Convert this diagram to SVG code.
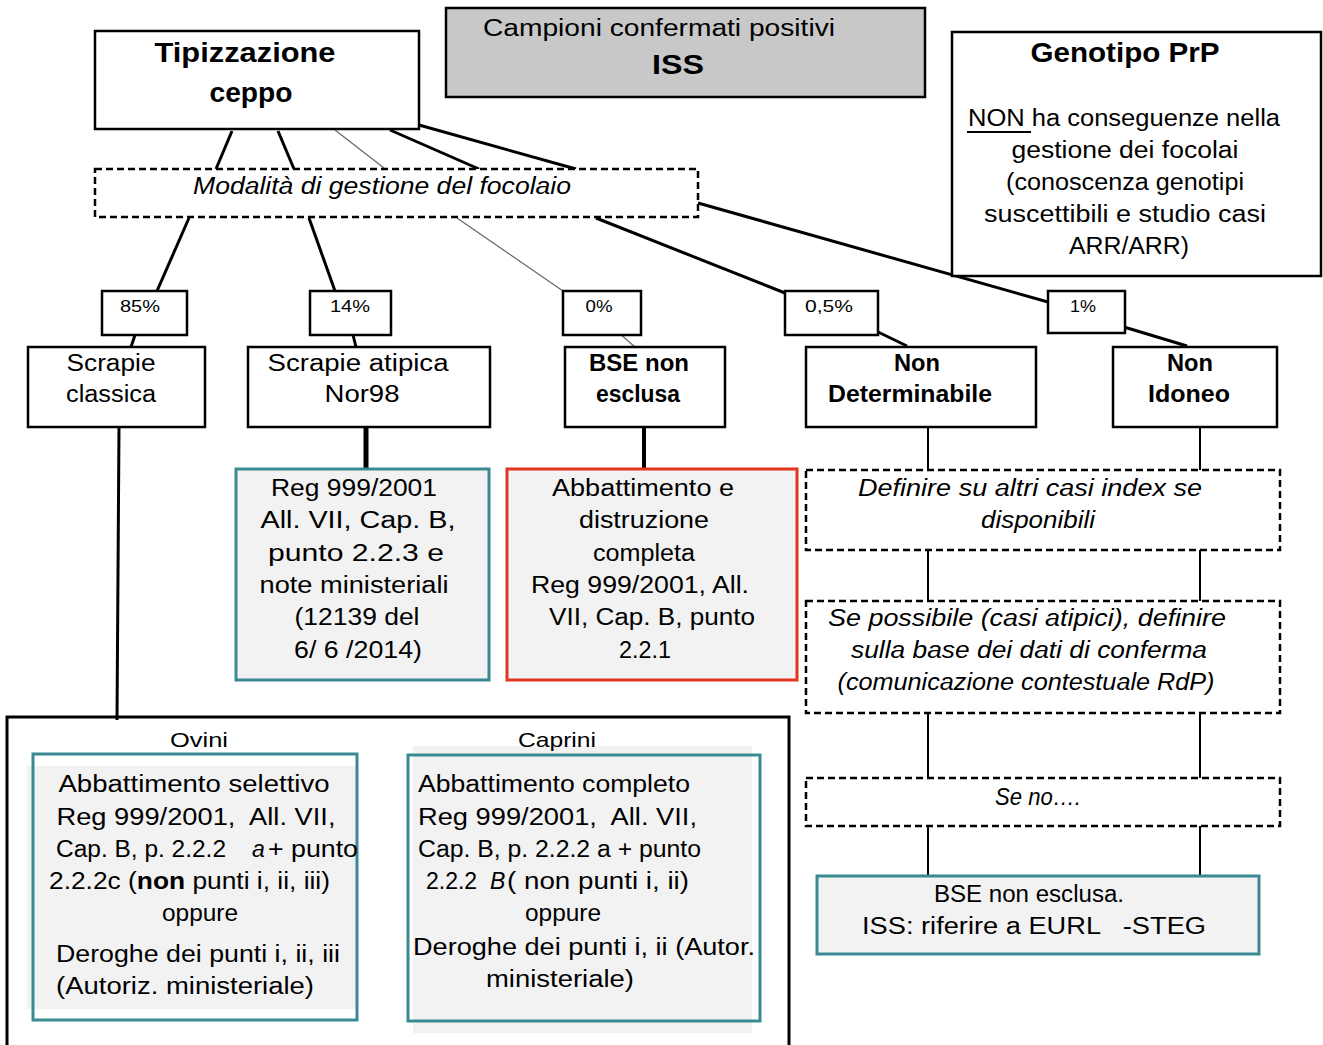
<svg xmlns="http://www.w3.org/2000/svg" width="1323" height="1045" viewBox="0 0 1323 1045">
<style>
text{font-family:"Liberation Sans","DejaVu Sans",sans-serif;fill:#000;text-anchor:middle}
.b{stroke:#000;stroke-width:2.5;fill:#fff}
.d{stroke:#000;stroke-width:2.5;fill:#fff;stroke-dasharray:7 4}
.t{stroke:#3a8a93;stroke-width:3;fill:#f2f2f2}
.c{stroke:#000;stroke-width:3;fill:none}
.th{stroke:#666;stroke-width:1.2;fill:none}
.v{stroke:#000;stroke-width:2;fill:none}
.f24{font-size:23px}
.f17{font-size:17px}
.it{font-style:italic}
.bd{font-weight:bold}
</style>
<rect width="1323" height="1045" fill="#fff"/>
<g id="connectors">
<line class="c" x1="232" y1="131" x2="216" y2="169"/>
<line class="c" x1="278" y1="131" x2="294" y2="169"/>
<line class="c" x1="390" y1="130" x2="479" y2="169"/>
<line class="c" x1="419" y1="125" x2="576" y2="169"/>
<line class="th" x1="335" y1="130" x2="384" y2="168"/>
<line class="c" x1="189" y1="218" x2="157" y2="291"/>
<line class="c" x1="309" y1="218" x2="335" y2="291"/>
<line class="th" x1="457" y1="218" x2="563" y2="291"/>
<line class="c" x1="596" y1="218" x2="785" y2="293"/>
<line class="c" x1="698" y1="203" x2="1048" y2="302"/>
<line class="c" x1="135" y1="335" x2="131" y2="347"/>
<line class="c" x1="353" y1="335" x2="356" y2="347"/>
<line class="th" x1="619" y1="333" x2="635" y2="347"/>
<line class="c" x1="878" y1="332" x2="907" y2="346"/>
<line class="c" x1="1124" y1="327" x2="1187" y2="346"/>
<line class="c" x1="119" y1="427" x2="117" y2="720"/>
<line stroke="#000" stroke-width="5" x1="366" y1="427" x2="366" y2="468"/>
<line stroke="#000" stroke-width="4" x1="644" y1="427" x2="644" y2="468"/>
<line class="v" x1="928" y1="427" x2="928" y2="470"/>
<line class="v" x1="1200" y1="427" x2="1200" y2="470"/>
<line class="v" x1="928" y1="550" x2="928" y2="601"/>
<line class="v" x1="1200" y1="550" x2="1200" y2="601"/>
<line class="v" x1="928" y1="713" x2="928" y2="778"/>
<line class="v" x1="1200" y1="713" x2="1200" y2="778"/>
<line class="v" x1="928" y1="826" x2="928" y2="876"/>
<line class="v" x1="1200" y1="826" x2="1200" y2="876"/>
</g>
<g id="tipizzazione">
<rect class="b" x="95" y="31" width="324" height="98"/>
<text x="245" y="62" font-size="28" class="bd" textLength="181" lengthAdjust="spacingAndGlyphs">Tipizzazione</text>
<text x="251" y="102" font-size="28" class="bd" textLength="83" lengthAdjust="spacingAndGlyphs">ceppo</text>
</g>
<g id="campioni">
<rect x="446" y="8" width="479" height="89" fill="#c8c8c8" stroke="#000" stroke-width="2.5"/>
<text x="659" y="36" class="f24" textLength="352" lengthAdjust="spacingAndGlyphs">Campioni confermati positivi</text>
<text x="678" y="74" font-size="27" class="bd" textLength="52" lengthAdjust="spacingAndGlyphs">ISS</text>
</g>
<g id="genotipo">
<rect class="b" x="952" y="32" width="369" height="244"/>
<text x="1125" y="62" font-size="28" class="bd" textLength="189" lengthAdjust="spacingAndGlyphs">Genotipo PrP</text>
<text x="1124" y="126" class="f24" textLength="312" lengthAdjust="spacingAndGlyphs">NON ha conseguenze nella</text>
<line x1="967" y1="132" x2="1031" y2="132" stroke="#000" stroke-width="2"/>
<text x="1125" y="158" class="f24" textLength="227" lengthAdjust="spacingAndGlyphs">gestione dei focolai</text>
<text x="1125" y="190" class="f24" textLength="238" lengthAdjust="spacingAndGlyphs">(conoscenza genotipi</text>
<text x="1125" y="222" class="f24" textLength="282" lengthAdjust="spacingAndGlyphs">suscettibili e studio casi</text>
<text x="1129" y="254" class="f24" textLength="120" lengthAdjust="spacingAndGlyphs">ARR/ARR)</text>
</g>
<g id="modalita">
<rect class="d" x="95" y="169" width="603" height="48"/>
<text x="382" y="194" class="f24 it" textLength="378" lengthAdjust="spacingAndGlyphs">Modalità di gestione del focolaio</text>
</g>
<g id="p85"><rect class="b" x="102" y="291" width="85" height="44"/><text x="140" y="312" class="f17" textLength="40" lengthAdjust="spacingAndGlyphs">85%</text></g>
<g id="p14"><rect class="b" x="310" y="291" width="81" height="44"/><text x="350" y="312" class="f17" textLength="40" lengthAdjust="spacingAndGlyphs">14%</text></g>
<g id="p0"><rect class="b" x="563" y="291" width="78" height="44"/><text x="599" y="312" class="f17" textLength="27" lengthAdjust="spacingAndGlyphs">0%</text></g>
<g id="p05"><rect class="b" x="785" y="291" width="93" height="44"/><text x="829" y="312" class="f17" textLength="48" lengthAdjust="spacingAndGlyphs">0,5%</text></g>
<g id="p1"><rect class="b" x="1048" y="291" width="77" height="42"/><text x="1083" y="312" class="f17" textLength="26" lengthAdjust="spacingAndGlyphs">1%</text></g>
<g id="scrapie-classica">
<rect class="b" x="28" y="347" width="177" height="80"/>
<text x="111" y="371" class="f24" textLength="89" lengthAdjust="spacingAndGlyphs">Scrapie</text>
<text x="111" y="402" class="f24" textLength="90" lengthAdjust="spacingAndGlyphs">classica</text>
</g>
<g id="scrapie-atipica">
<rect class="b" x="248" y="347" width="242" height="80"/>
<text x="358" y="371" class="f24" textLength="181" lengthAdjust="spacingAndGlyphs">Scrapie atipica</text>
<text x="362" y="402" class="f24" textLength="75" lengthAdjust="spacingAndGlyphs">Nor98</text>
</g>
<g id="bse">
<rect class="b" x="565" y="347" width="160" height="80"/>
<text x="639" y="371" class="f24 bd" textLength="100" lengthAdjust="spacingAndGlyphs">BSE non</text>
<text x="638" y="402" class="f24 bd" textLength="84" lengthAdjust="spacingAndGlyphs">esclusa</text>
</g>
<g id="non-determinabile">
<rect class="b" x="806" y="347" width="230" height="80"/>
<text x="917" y="371" class="f24 bd" textLength="46" lengthAdjust="spacingAndGlyphs">Non</text>
<text x="910" y="402" class="f24 bd" textLength="164" lengthAdjust="spacingAndGlyphs">Determinabile</text>
</g>
<g id="non-idoneo">
<rect class="b" x="1113" y="347" width="164" height="80"/>
<text x="1190" y="371" class="f24 bd" textLength="46" lengthAdjust="spacingAndGlyphs">Non</text>
<text x="1189" y="402" class="f24 bd" textLength="82" lengthAdjust="spacingAndGlyphs">Idoneo</text>
</g>
<g id="reg-nor98">
<rect class="t" x="236" y="469" width="253" height="211"/>
<text x="354" y="496" class="f24" textLength="166" lengthAdjust="spacingAndGlyphs">Reg 999/2001</text>
<text x="358" y="528" class="f24" textLength="195" lengthAdjust="spacingAndGlyphs">All. VII, Cap. B,</text>
<text x="356" y="561" class="f24" textLength="176" lengthAdjust="spacingAndGlyphs">punto 2.2.3 e</text>
<text x="354" y="593" class="f24" textLength="189" lengthAdjust="spacingAndGlyphs">note ministeriali</text>
<text x="357" y="625" class="f24" textLength="125" lengthAdjust="spacingAndGlyphs">(12139 del</text>
<text x="358" y="658" class="f24" textLength="128" lengthAdjust="spacingAndGlyphs">6/ 6 /2014)</text>
</g>
<g id="abbattimento-bse">
<rect x="507" y="469" width="290" height="211" fill="#f2f2f2" stroke="#e0351f" stroke-width="3"/>
<text x="643" y="496" class="f24" textLength="182" lengthAdjust="spacingAndGlyphs">Abbattimento e</text>
<text x="644" y="528" class="f24" textLength="130" lengthAdjust="spacingAndGlyphs">distruzione</text>
<text x="644" y="561" class="f24" textLength="102" lengthAdjust="spacingAndGlyphs">completa</text>
<text x="640" y="593" class="f24" textLength="218" lengthAdjust="spacingAndGlyphs">Reg 999/2001, All.</text>
<text x="652" y="625" class="f24" textLength="206" lengthAdjust="spacingAndGlyphs">VII, Cap. B, punto</text>
<text x="645" y="658" class="f24" textLength="52" lengthAdjust="spacingAndGlyphs">2.2.1</text>
</g>
<g id="definire">
<rect class="d" x="806" y="470" width="474" height="80"/>
<text x="1030" y="496" class="f24 it" textLength="344" lengthAdjust="spacingAndGlyphs">Definire su altri casi index se</text>
<text x="1038" y="528" class="f24 it" textLength="114" lengthAdjust="spacingAndGlyphs">disponibili</text>
</g>
<g id="se-possibile">
<rect class="d" x="806" y="601" width="474" height="112"/>
<text x="1027" y="626" class="f24 it" textLength="398" lengthAdjust="spacingAndGlyphs">Se possibile (casi atipici), definire</text>
<text x="1029" y="658" class="f24 it" textLength="356" lengthAdjust="spacingAndGlyphs">sulla base dei dati di conferma</text>
<text x="1026" y="690" class="f24 it" textLength="377" lengthAdjust="spacingAndGlyphs">(comunicazione contestuale RdP)</text>
</g>
<g id="se-no">
<rect class="d" x="806" y="778" width="474" height="48"/>
<text x="1038" y="805" class="f24 it" textLength="86" lengthAdjust="spacingAndGlyphs">Se no….</text>
</g>
<g id="bse-eurl">
<rect class="t" x="817" y="876" width="442" height="78"/>
<text x="1029" y="902" class="f24" textLength="190" lengthAdjust="spacingAndGlyphs">BSE non esclusa.</text>
<text x="1034" y="934" class="f24" style="white-space:pre" textLength="344" lengthAdjust="spacingAndGlyphs">ISS: riferire a EURL   -STEG</text>
</g>
<g id="scrapie-classica-gestione">
<rect x="7" y="717" width="782" height="345" fill="none" stroke="#000" stroke-width="3"/>
</g>
<g id="ovini">
<rect x="27" y="766" width="330" height="243" fill="#f2f2f2"/>
<rect x="33" y="754" width="324" height="266" fill="none" stroke="#3a8a93" stroke-width="3"/>
<text x="194" y="792" class="f24" textLength="271" lengthAdjust="spacingAndGlyphs">Abbattimento selettivo</text>
<text x="196" y="825" class="f24" style="white-space:pre" textLength="279" lengthAdjust="spacingAndGlyphs">Reg 999/2001,  All. VII,</text>
<text x="56" y="857" class="f24" style="text-anchor:start" textLength="170" lengthAdjust="spacingAndGlyphs">Cap. B, p. 2.2.2</text>
<text x="252" y="857" class="f24 it" style="text-anchor:start">a</text>
<text x="268" y="857" class="f24" style="text-anchor:start" textLength="90" lengthAdjust="spacingAndGlyphs">+ punto</text>
<text x="49" y="889" class="f24" style="text-anchor:start" textLength="281" lengthAdjust="spacingAndGlyphs">2.2.2c (<tspan class="bd">non</tspan> punti i, ii, iii)</text>
<text x="200" y="921" class="f24" textLength="76" lengthAdjust="spacingAndGlyphs">oppure</text>
<text x="198" y="962" class="f24" textLength="284" lengthAdjust="spacingAndGlyphs">Deroghe dei punti i, ii, iii</text>
<text x="185" y="994" class="f24" textLength="258" lengthAdjust="spacingAndGlyphs">(Autoriz. ministeriale)</text>
</g>
<g id="caprini">
<rect x="413" y="746" width="339" height="287" fill="#f2f2f2"/>
<rect x="408" y="755" width="352" height="266" fill="none" stroke="#3a8a93" stroke-width="3"/>
<text x="418" y="792" class="f24" style="text-anchor:start" textLength="272" lengthAdjust="spacingAndGlyphs">Abbattimento completo</text>
<text x="418" y="825" class="f24" style="text-anchor:start;white-space:pre" textLength="279" lengthAdjust="spacingAndGlyphs">Reg 999/2001,  All. VII,</text>
<text x="418" y="857" class="f24" style="text-anchor:start" textLength="283" lengthAdjust="spacingAndGlyphs">Cap. B, p. 2.2.2 a + punto</text>
<text x="426" y="889" class="f24" style="text-anchor:start">2.2.2</text>
<text x="490" y="889" class="f24 it" style="text-anchor:start">B</text>
<text x="507" y="889" class="f24" style="text-anchor:start" textLength="182" lengthAdjust="spacingAndGlyphs">( non punti i, ii)</text>
<text x="563" y="921" class="f24" textLength="76" lengthAdjust="spacingAndGlyphs">oppure</text>
<text x="584" y="955" class="f24" textLength="342" lengthAdjust="spacingAndGlyphs">Deroghe dei punti i, ii (Autor.</text>
<text x="560" y="987" class="f24" textLength="148" lengthAdjust="spacingAndGlyphs">ministeriale)</text>
</g>
<g id="labels">
<text x="199" y="747" font-size="21" textLength="58" lengthAdjust="spacingAndGlyphs">Ovini</text>
<text x="557" y="747" font-size="21" textLength="78" lengthAdjust="spacingAndGlyphs">Caprini</text>
</g>
</svg>
